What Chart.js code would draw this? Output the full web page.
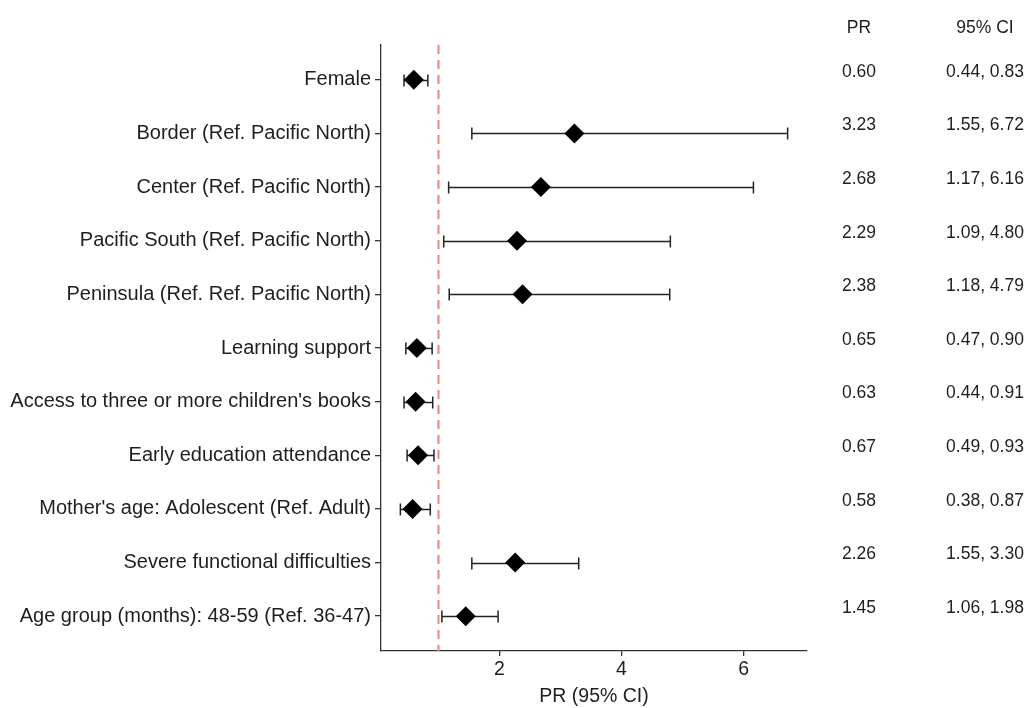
<!DOCTYPE html>
<html>
<head>
<meta charset="utf-8">
<script src="https://cdn.jsdelivr.net/npm/chart.js@4.4.1/dist/chart.umd.min.js"></script>
<style>
  html, body { margin: 0; padding: 0; background: #ffffff; }
  #wrap { width: 1035px; height: 708px; position: relative; }
</style>
</head>
<body>
<div id="wrap"><canvas id="c" width="1035" height="708"></canvas></div>
<script>
const categories = [
  "Female",
  "Border (Ref. Pacific North)",
  "Center (Ref. Pacific North)",
  "Pacific South (Ref. Pacific North)",
  "Peninsula (Ref. Ref. Pacific North)",
  "Learning support",
  "Access to three or more children's books",
  "Early education attendance",
  "Mother's age: Adolescent (Ref. Adult)",
  "Severe functional difficulties",
  "Age group (months): 48-59 (Ref. 36-47)"
];
const prValues = [0.60, 3.23, 2.68, 2.29, 2.38, 0.65, 0.63, 0.67, 0.58, 2.26, 1.45];
const ciLow    = [0.44, 1.55, 1.17, 1.09, 1.18, 0.47, 0.44, 0.49, 0.38, 1.55, 1.06];
const ciHigh   = [0.83, 6.72, 6.16, 4.80, 4.79, 0.90, 0.91, 0.93, 0.87, 3.30, 1.98];
const xTicks   = [2, 4, 6];
const refValue = 1;
const colHeaders = ["PR", "95% CI"];

const FONT = "'Liberation Sans', Arial, sans-serif";
const TEXT = "#1e1e1e";

const forestPlugin = {
  id: 'forest',
  beforeDatasetsDraw(chart) {
    const {ctx, chartArea, scales: {x, y}} = chart;
    ctx.save();
    // reference line
    const rx = Math.round(x.getPixelForValue(refValue)) + 0.5;
    ctx.strokeStyle = '#f4817b';
    ctx.lineWidth = 2;
    ctx.setLineDash([9, 6]);
    ctx.beginPath();
    ctx.moveTo(rx, chartArea.top);
    ctx.lineTo(rx, chartArea.bottom);
    ctx.stroke();
    ctx.setLineDash([]);
    // error bars
    ctx.strokeStyle = '#222222';
    ctx.lineWidth = 1.5;
    for (let i = 0; i < prValues.length; i++) {
      const py = Math.round(y.getPixelForValue(i)) + 0.5;
      const x1 = x.getPixelForValue(ciLow[i]);
      const x2 = x.getPixelForValue(ciHigh[i]);
      ctx.beginPath();
      ctx.moveTo(x1, py); ctx.lineTo(x2, py);
      ctx.moveTo(x1, py - 6); ctx.lineTo(x1, py + 6);
      ctx.moveTo(x2, py - 6); ctx.lineTo(x2, py + 6);
      ctx.stroke();
    }
    ctx.restore();
  },
  afterDraw(chart) {
    const {ctx, scales: {y}} = chart;
    ctx.save();
    ctx.fillStyle = TEXT;
    ctx.font = "17.5px " + FONT;
    ctx.textAlign = 'center';
    ctx.textBaseline = 'middle';
    const c1 = 859, c2 = 985;
    ctx.fillText(colHeaders[0], c1, 28);
    ctx.fillText(colHeaders[1], c2, 28);
    for (let i = 0; i < prValues.length; i++) {
      const py = y.getPixelForValue(i) - 8;
      ctx.fillText(prValues[i].toFixed(2), c1, py);
      ctx.fillText(ciLow[i].toFixed(2) + ", " + ciHigh[i].toFixed(2), c2, py);
    }
    ctx.restore();
  }
};

new Chart(document.getElementById('c'), {
  type: 'scatter',
  data: {
    datasets: [{
      data: prValues.map((v, i) => ({x: v, y: i})),
      pointStyle: 'rectRot',
      pointRadius: 10,
      pointHoverRadius: 10,
      backgroundColor: '#000000',
      borderColor: '#000000',
      borderWidth: 0
    }]
  },
  options: {
    responsive: false,
    animation: false,
    devicePixelRatio: 1,
    layout: { padding: { left: 0, right: 228, top: 45, bottom: 0 } },
    plugins: { legend: { display: false }, tooltip: { enabled: false } },
    scales: {
      x: {
        type: 'linear',
        min: 0.063,
        max: 7.037,
        afterBuildTicks: s => { s.ticks = xTicks.map(v => ({value: v})); },
        afterFit: s => { s.height = 57; },
        grid: { display: true, drawOnChartArea: false, drawTicks: true, tickLength: 5, tickColor: '#333333', lineWidth: 1.3 },
        border: { display: true, color: '#333333', width: 1.3 },
        ticks: { color: TEXT, font: { family: FONT, size: 19.5 }, padding: 2 },
        title: { display: true, text: 'PR (95% CI)', color: TEXT, font: { family: FONT, size: 19.5 }, padding: { top: 0, bottom: 0 } }
      },
      y: {
        type: 'linear',
        reverse: true,
        min: -0.65,
        max: 10.65,
        afterBuildTicks: s => { s.ticks = categories.map((c, i) => ({value: i})); },
        afterFit: s => { s.width = 381; },
        grid: { display: true, drawOnChartArea: false, drawTicks: true, tickLength: 6, tickColor: '#333333', lineWidth: 1.3 },
        border: { display: true, color: '#333333', width: 1.3 },
        ticks: {
          color: TEXT,
          font: { family: FONT, size: 20 },
          padding: 4,
          callback: v => categories[v]
        }
      }
    }
  },
  plugins: [forestPlugin]
});
</script>
</body>
</html>
